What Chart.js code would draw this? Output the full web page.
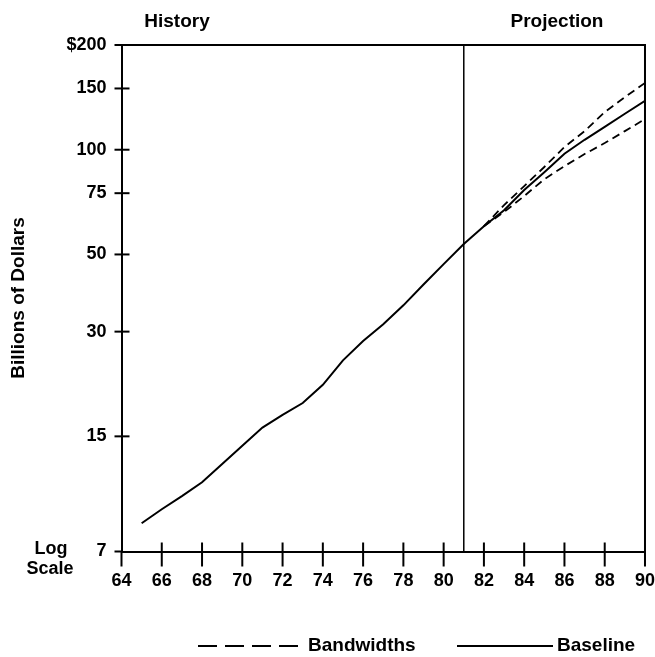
<!DOCTYPE html>
<html>
  <head>
    <meta charset="utf-8">
    <title>Billions of Dollars - History and Projection</title>
    <style>
      body {
        margin: 0;
        background: white;
      }
      canvas {
        display: block;
      }
    </style>
    <script src="https://cdn.jsdelivr.net/npm/chart.js@4"></script>
  </head>
  <body>
    <canvas id="myChart" width="655" height="657"></canvas>
    <script>

// History (actual) values
const historyYears = [65, 66, 67, 68, 69, 70, 71, 72, 73, 74, 75, 76, 77, 78, 79, 80, 81];
const historyValues = [8.44, 9.26, 10.1, 11.07, 12.5, 14.1, 15.9, 17.3, 18.7, 21.1, 24.8, 28.2, 31.5, 35.7, 41.0, 46.9, 53.6];

// Projection
const projYears = [82, 83, 84, 85, 86, 87, 88, 89, 90];
const baselineProj = [60.3, 67.0, 76.6, 86.2, 97.4, 106.8, 116.3, 126.9, 138.3];
const upperBand = [60.3, 69.3, 78.6, 89.2, 101.8, 113.1, 128.3, 141.7, 155.5];
const lowerBand = [60.3, 66.2, 73.6, 82.3, 89.7, 97.2, 104.5, 113.1, 122.5];

// Axis ticks
const yTicks = [7, 15, 30, 50, 75, 100, 150, 200];
const yTickLabels = ["7", "15", "30", "50", "75", "100", "150", "$200"];
const xMin = 64;
const xMax = 90;
const projectionStart = 81;

const FONT = '"Liberation Sans", Arial, sans-serif';

function toPoints(xs, ys) {
  return xs.map(function (x, i) {
    return { x: x, y: ys[i] };
  });
}

const baselineData = toPoints(historyYears.concat(projYears), historyValues.concat(baselineProj));

// Extra drawing: box, crossing tick marks, headings, legend
const decorations = {
  id: 'decorations',
  afterDraw: function (chart) {
    const ctx = chart.ctx;
    const area = chart.chartArea;
    const xs = chart.scales.x;
    const ys = chart.scales.y;
    ctx.save();
    ctx.strokeStyle = '#000';
    ctx.fillStyle = '#000';
    ctx.lineCap = 'butt';

    // top and right border
    ctx.lineWidth = 2;
    ctx.beginPath();
    ctx.moveTo(area.left - 1, area.top);
    ctx.lineTo(area.right, area.top);
    ctx.lineTo(area.right, area.bottom + 15);
    ctx.stroke();

    // left axis runs a little below the bottom line
    ctx.beginPath();
    ctx.moveTo(area.left, area.bottom);
    ctx.lineTo(area.left, area.bottom + 15);
    ctx.stroke();

    // divider between history and projection
    const xp = xs.getPixelForValue(projectionStart);
    ctx.lineWidth = 1.5;
    ctx.beginPath();
    ctx.moveTo(xp, area.top);
    ctx.lineTo(xp, area.bottom);
    ctx.stroke();

    // y tick marks
    ctx.lineWidth = 2;
    yTicks.forEach(function (v) {
      const y = ys.getPixelForValue(v);
      const inner = (v === yTicks[0] || v === yTicks[yTicks.length - 1]) ? 0 : 8;
      ctx.beginPath();
      ctx.moveTo(area.left - 7, y);
      ctx.lineTo(area.left + inner, y);
      ctx.stroke();
    });

    // x tick marks
    for (let v = xMin + 2; v < xMax; v += 2) {
      const x = xs.getPixelForValue(v);
      ctx.beginPath();
      ctx.moveTo(x, area.bottom - 9);
      ctx.lineTo(x, area.bottom + 15);
      ctx.stroke();
    }

    // headings
    ctx.font = 'bold 19px ' + FONT;
    ctx.textAlign = 'center';
    ctx.textBaseline = 'middle';
    ctx.fillText('History', 177, 22);
    ctx.fillText('Projection', 557, 22);

    // log scale note
    ctx.font = 'bold 18px ' + FONT;
    ctx.fillText('Log', 51, 549);
    ctx.fillText('Scale', 50, 569);

    // y axis title
    ctx.save();
    ctx.translate(19, 298);
    ctx.rotate(-Math.PI / 2);
    ctx.font = 'bold 19px ' + FONT;
    ctx.fillText('Billions of Dollars', 0, 0);
    ctx.restore();

    // legend
    ctx.lineWidth = 2;
    ctx.setLineDash([19, 8]);
    ctx.beginPath();
    ctx.moveTo(198, 646);
    ctx.lineTo(299, 646);
    ctx.stroke();
    ctx.setLineDash([]);
    ctx.beginPath();
    ctx.moveTo(457, 646);
    ctx.lineTo(553, 646);
    ctx.stroke();
    ctx.font = 'bold 19px ' + FONT;
    ctx.textAlign = 'left';
    ctx.fillText('Bandwidths', 308, 646);
    ctx.fillText('Baseline', 557, 646);

    ctx.restore();
  }
};

var ctx = document.getElementById('myChart').getContext('2d');
var myChart = new Chart(ctx, {
  type: 'line',
  data: {
    datasets: [
      {
        label: 'Baseline',
        data: baselineData,
        borderColor: '#000',
        borderWidth: 2,
        pointRadius: 0,
        tension: 0,
      },
      {
        label: 'Bandwidths',
        data: toPoints(projYears, upperBand),
        borderColor: '#000',
        borderWidth: 1.8,
        borderDash: [8, 5],
        pointRadius: 0,
        tension: 0,
      },
      {
        label: 'Bandwidths',
        data: toPoints(projYears, lowerBand),
        borderColor: '#000',
        borderWidth: 1.8,
        borderDash: [8, 5],
        pointRadius: 0,
        tension: 0,
      }
    ]
  },
  plugins: [decorations],
  options: {
    responsive: false,
    animation: false,
    layout: {
      padding: { left: 0, right: 10, top: 45, bottom: 0 }
    },
    plugins: {
      legend: { display: false },
      tooltip: { enabled: false }
    },
    scales: {
      x: {
        type: 'linear',
        min: xMin,
        max: xMax,
        // invisible tick marks only push the labels down
        grid: { display: true, drawOnChartArea: false, drawTicks: true, tickLength: 19, tickColor: 'rgba(0,0,0,0)' },
        border: { display: true, color: '#000', width: 2 },
        ticks: {
          stepSize: 2,
          color: '#000',
          padding: 0,
          maxRotation: 0,
          font: { family: FONT, size: 18, weight: 'bold' }
        },
        afterFit: function (scale) {
          scale.height = 105.5;
        }
      },
      y: {
        type: 'logarithmic',
        min: 7,
        max: 200,
        grid: { display: true, drawOnChartArea: false, drawTicks: true, tickLength: 15, tickColor: 'rgba(0,0,0,0)' },
        border: { display: true, color: '#000', width: 2 },
        afterBuildTicks: function (scale) {
          scale.ticks = yTicks.map(function (v) {
            return { value: v };
          });
        },
        ticks: {
          color: '#000',
          padding: 0,
          autoSkip: false,
          font: { family: FONT, size: 18, weight: 'bold' },
          callback: function (value) {
            const i = yTicks.indexOf(value);
            return i >= 0 ? yTickLabels[i] : '';
          }
        },
        afterFit: function (scale) {
          scale.width = 121.5;
        }
      }
    }
  }
});
    </script>
  </body>
</html>
